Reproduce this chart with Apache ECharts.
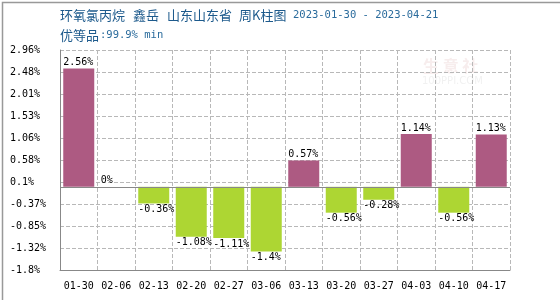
<!DOCTYPE html>
<html><head><meta charset="utf-8">
<script src="https://cdn.jsdelivr.net/npm/echarts@6/dist/echarts.min.js"></script>
<style>html,body{margin:0;padding:0;background:#fff}#c{width:560px;height:300px}</style>
</head><body><div id="c"></div>
<script>
var categories = ['01-30','02-06','02-13','02-20','02-27','03-06','03-13','03-20','03-27','04-03','04-10','04-17'];
var values = [2.56, 0, -0.36, -1.08, -1.11, -1.4, 0.57, -0.56, -0.28, 1.14, -0.56, 1.13];
var yTickLabels = ['-1.8%','-1.32%','-0.85%','-0.37%','0.1%','0.58%','1.06%','1.53%','2.01%','2.48%','2.96%'];
var titleParts = ['环氧氯丙烷', '鑫岳', '山东山东省', '周K柱图'];
var titleDate = '2023-01-30 - 2023-04-21';
var subMain = '优等品';
var subRest = ':99.9% min';

var UP = '#ad5a82', DOWN = '#add633';
var mono = 'DejaVu Sans Mono';
var cjk = '"Noto Sans CJK SC"';
var BW = 31;
var TC = '#1d5a8c';

var titleX = [60, 133, 167, 239];
var graphics = [
  {type:'rect', left:0, top:0, shape:{width:559, height:299}, style:{fill:'none', stroke:'#999', lineWidth:1.5}, silent:true, z:100},
  {type:'text', left:423, top:58, style:{text:'生 意 社', fill:'#f7eded', font:'bold 16px ' + cjk}, silent:true, z:-1},
  {type:'text', left:422, top:76, style:{text:'100PPI.COM', fill:'#f1f1f1', font:'10px "DejaVu Sans"'}, silent:true, z:-1}
];
titleParts.forEach(function(t, i){
  graphics.push({type:'text', x: titleX[i], y: 15, style:{text:t, fill:TC, font:'13px ' + cjk, verticalAlign:'middle'}, silent:true});
});
graphics.push({type:'text', x: 293, y: 15, style:{text:titleDate, fill:'#2a6b9c', font:'10.5px "' + mono + '"', verticalAlign:'middle'}, silent:true});
graphics.push({type:'text', x: 60, y: 35.5, style:{text:subMain, fill:TC, font:'13px ' + cjk, verticalAlign:'middle'}, silent:true});
graphics.push({type:'text', x: 100, y: 35.5, style:{text:subRest, fill:'#2a6b9c', font:'10.5px "' + mono + '"', verticalAlign:'middle'}, silent:true});

var chart = echarts.init(document.getElementById('c'), null, {renderer:'canvas'});
var data = values.map(function(v){
  return {
    value: v,
    itemStyle: {color: v < 0 ? DOWN : UP},
    label: {position: v >= 0 ? 'top' : 'bottom', distance: 1}
  };
});
var gridLine = {color: '#b8b8b8', type: [4, 2], width: 1};
chart.setOption({
  animation: false,
  graphic: graphics,
  grid: {left: 60, right: 50, top: 50, bottom: 30},
  xAxis: {
    type: 'category', data: categories, boundaryGap: true,
    axisLine: {onZero: false, lineStyle: {color: '#888', width: 1}},
    axisTick: {show: false},
    axisLabel: {color: '#000', fontFamily: mono, fontSize: 10, margin: 11, interval: 0},
    splitLine: {show: true, interval: 0, lineStyle: gridLine}
  },
  yAxis: [{
    type: 'value', min: 0, max: 10, interval: 1,
    axisLine: {show: true, lineStyle: {color: '#888', width: 1}},
    axisTick: {show: false},
    axisLabel: {color: '#000', fontFamily: mono, fontSize: 10, margin: 50, align: 'left',
      formatter: function(v){ return yTickLabels[Math.round(v)]; }},
    splitLine: {show: true, lineStyle: gridLine}
  },{
    type: 'value', min: -1.8, max: 2.96, show: false, splitLine: {show: false}
  }],
  series: [{
    type: 'bar', yAxisIndex: 1, data: data, barWidth: BW,
    label: {show: true, color: '#000', fontFamily: mono, fontSize: 10, align: 'left', offset: [-BW/2, 0],
      formatter: function(p){ return p.value + '%'; }},
    markLine: {silent: true, symbol: 'none', label: {show: false},
      lineStyle: {color: '#888', type: 'solid', width: 1},
      data: [{yAxis: 0}]},
    z: 3
  }]
});
</script></body></html>
